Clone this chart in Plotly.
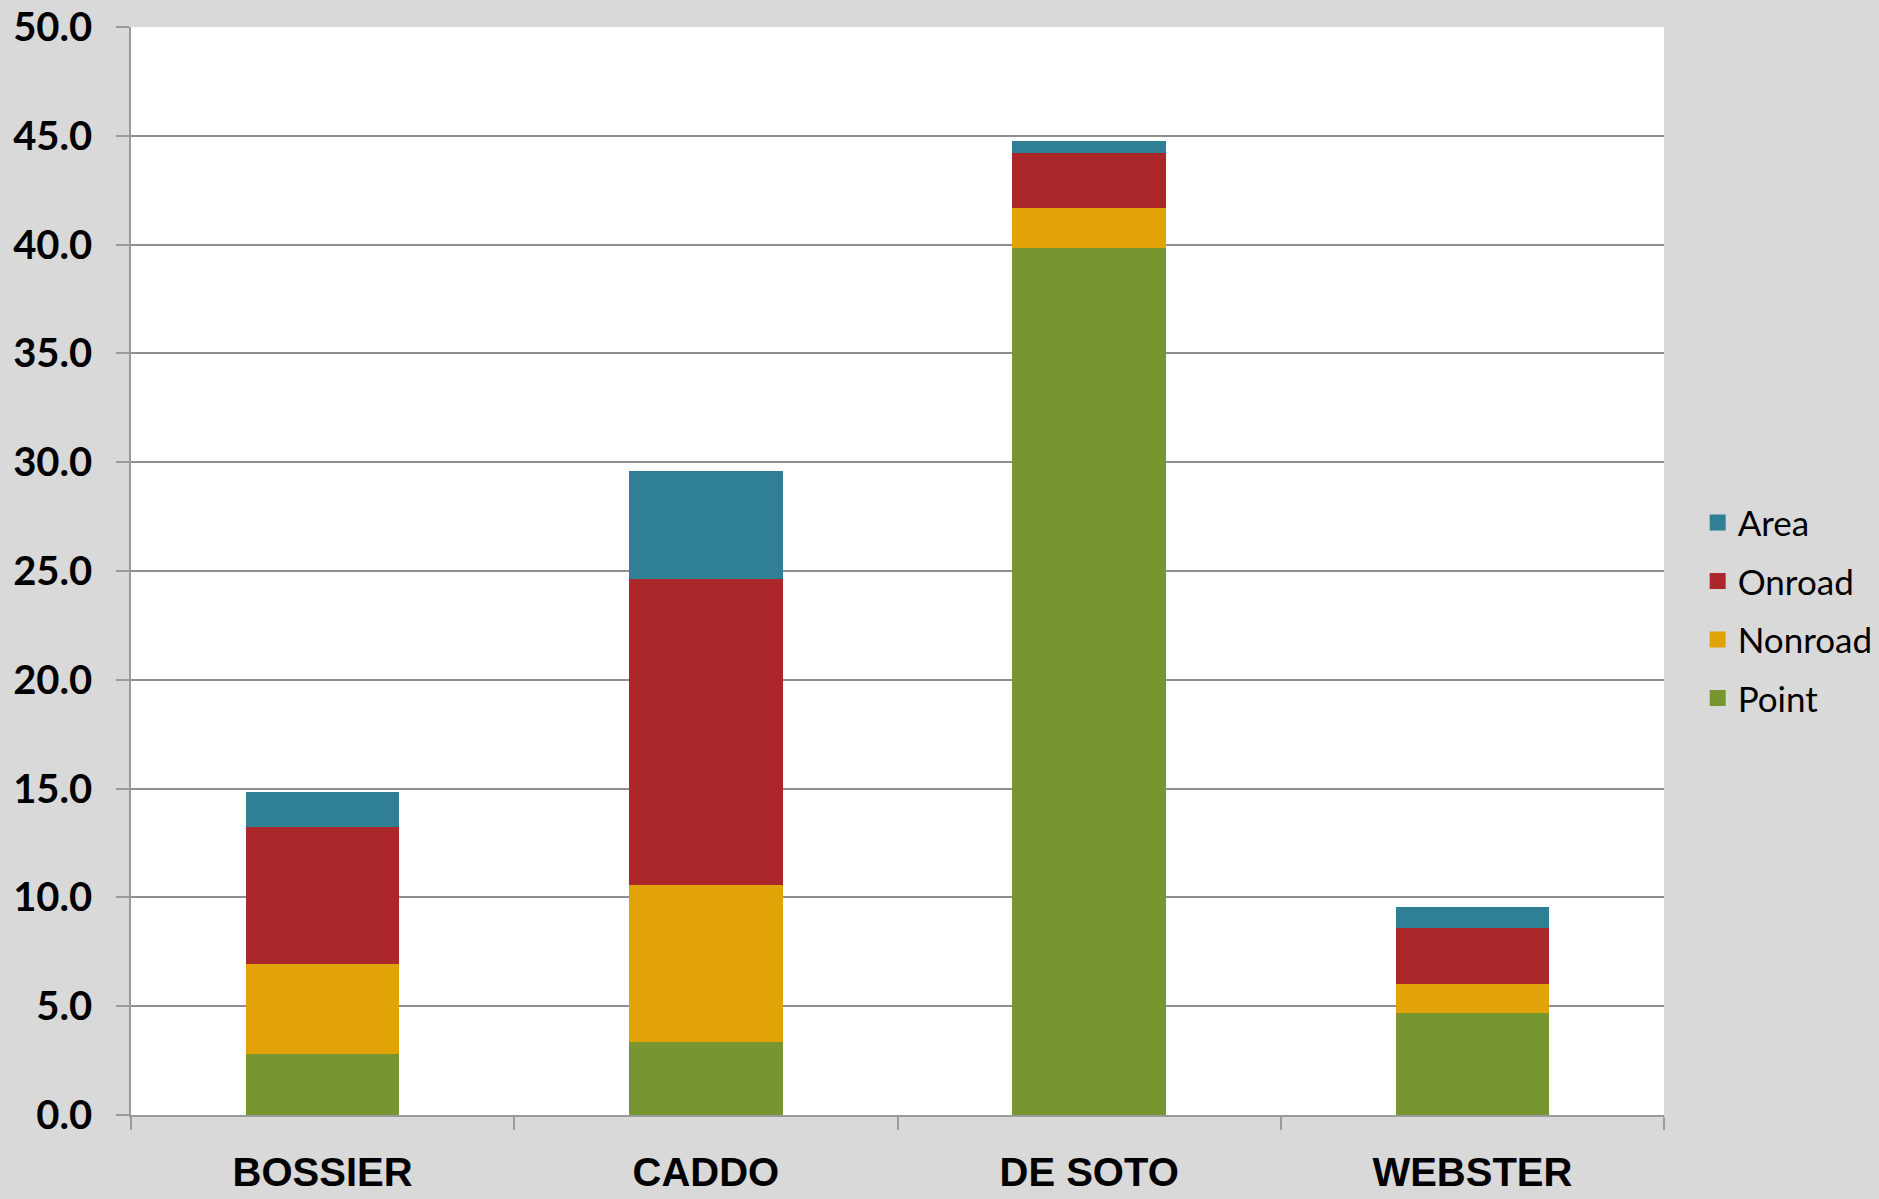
import plotly.graph_objects as go

counties = ["BOSSIER", "CADDO", "DE SOTO", "WEBSTER"]
point = [2.80, 3.36, 39.86, 4.67]
nonroad = [4.14, 7.20, 1.84, 1.34]
onroad = [6.31, 14.08, 2.51, 2.57]
area = [1.59, 4.95, 0.54, 0.99]

y_ticks = [0, 5, 10, 15, 20, 25, 30, 35, 40, 45, 50]

series = [
    ("Point", point, "#77962F"),
    ("Nonroad", nonroad, "#E1A308"),
    ("Onroad", onroad, "#AB272A"),
    ("Area", area, "#2F8094"),
]

fig = go.Figure()
for name, vals, col in series:
    fig.add_trace(go.Bar(
        x=counties, y=vals, name=name, marker_color=col,
        marker_line_width=0, width=0.4, showlegend=False,
    ))

# legend proxies (top-to-bottom order: Area, Onroad, Nonroad, Point)
for i, (name, vals, col) in enumerate(reversed(series)):
    fig.add_trace(go.Scatter(
        x=[None], y=[None], mode="markers", name=name,
        marker=dict(symbol="square", size=16, color=col, line_width=0),
        legendgroup=name, legendrank=i + 1,
    ))

fig.update_layout(
    width=1879, height=1199,
    barmode="stack",
    paper_bgcolor="#D9D9D9",
    plot_bgcolor="#FFFFFF",
    margin=dict(l=131, r=215, t=27, b=84, autoexpand=False),
    legend=dict(
        xref="container", x=0.9035, xanchor="left",
        y=0.464, yanchor="middle",
        font=dict(family="Lato", size=35, color="#000000"),
        bgcolor="rgba(0,0,0,0)",
        tracegroupgap=10,
        itemwidth=30,
        traceorder="grouped",
    ),
    showlegend=True,
)

fig.update_yaxes(
    range=[0, 50], tickvals=y_ticks,
    ticktext=[f"{v:.1f}" for v in y_ticks],
    showgrid=True, gridcolor="#8F8F8F", gridwidth=1.5,
    showline=True, linecolor="#9A9A9A", linewidth=1.5,
    ticks="outside", ticklen=13, tickcolor="#9A9A9A", tickwidth=1.5,
    tickfont=dict(family="Lato", size=40, color="#000000", weight="bold"),
    ticklabelstandoff=16,
    zeroline=False, automargin=False,
)
fig.update_xaxes(
    showline=True, linecolor="#9A9A9A", linewidth=1.5,
    ticks="outside", tickson="boundaries", ticklen=13,
    tickcolor="#9A9A9A", tickwidth=1.5,
    tickfont=dict(family="Liberation Sans", size=40, color="#000000", weight="bold"),
    ticklabelstandoff=21,
    showgrid=False, automargin=False,
)

fig.write_html(
    "out.html",
    config={"displayModeBar": False},
    post_script="document.body.style.margin='0';document.body.style.overflow='hidden';",
)
